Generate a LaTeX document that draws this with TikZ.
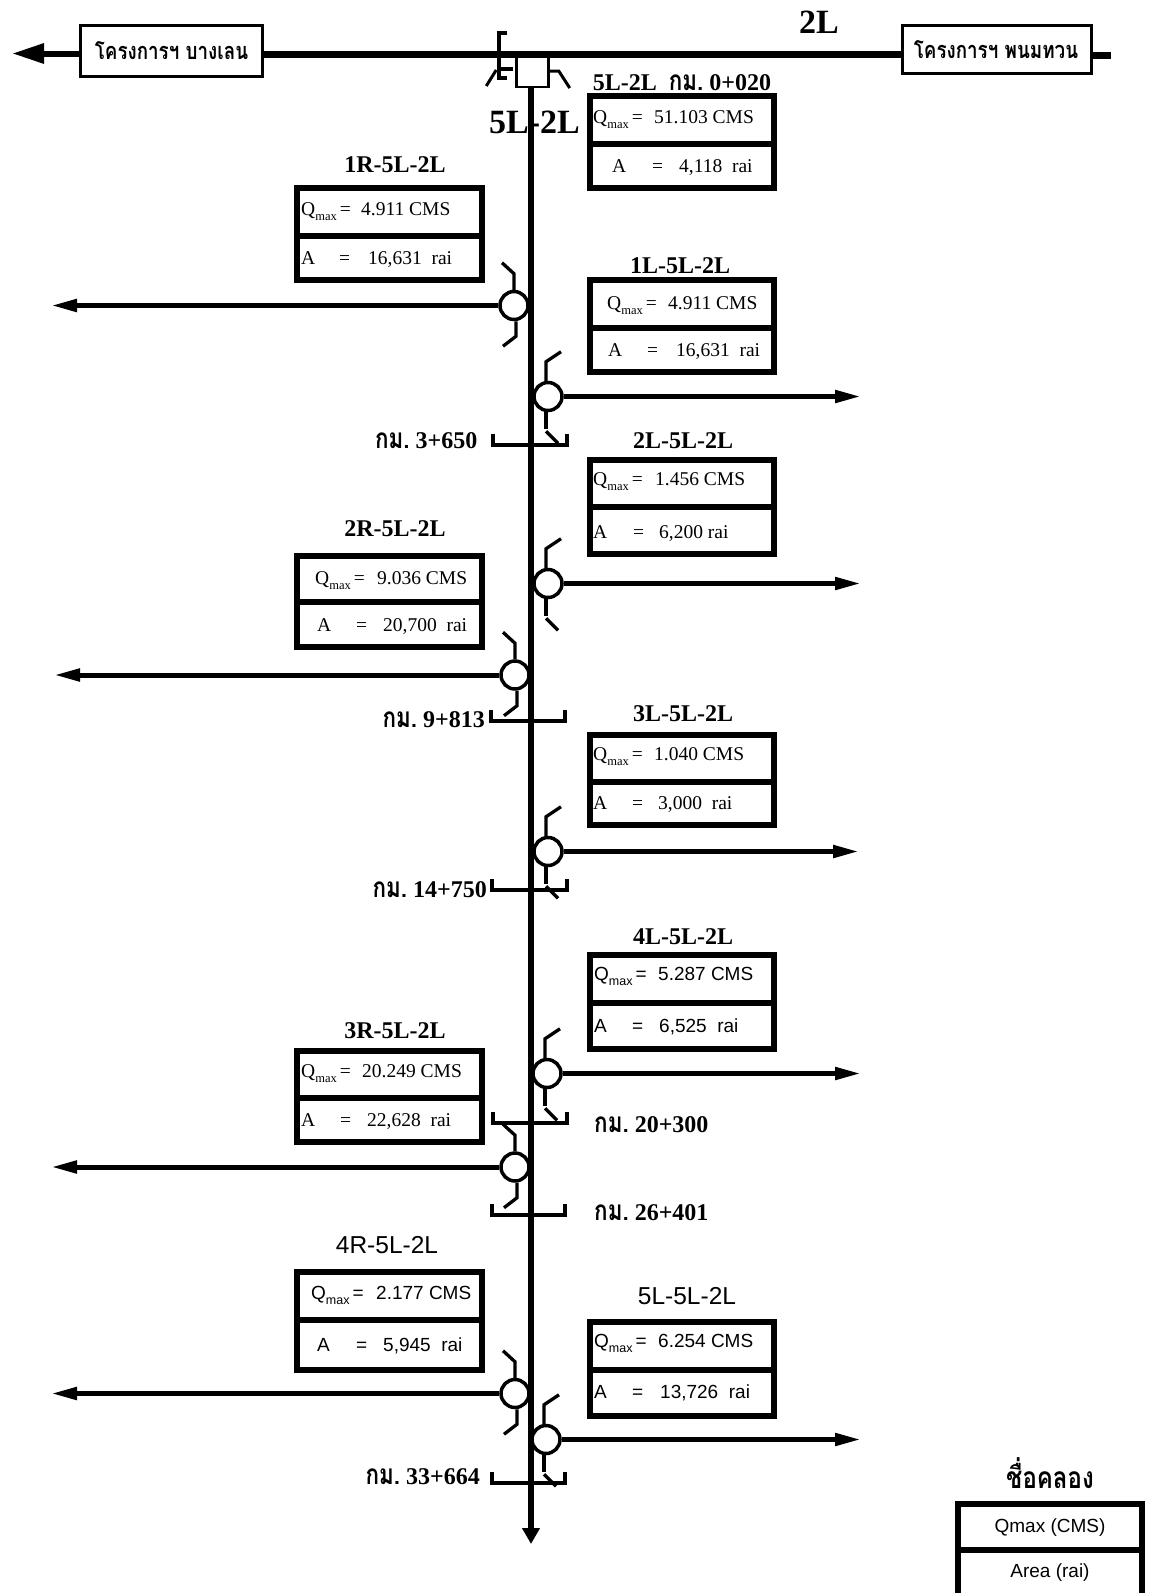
\documentclass[tikz,border=0pt]{standalone}
\usepackage{fontspec}
\usetikzlibrary{arrows.meta}
\setmainfont{Liberation Serif}
\newfontfamily\sansf{Liberation Sans}
\newfontfamily\thaib[Script=Thai,FakeStretch=0.8]{Loma}
\newcommand\fs[1]{\fontsize{#1}{#1}\selectfont}
\newcommand\kmw{{\thaib\bfseries\fs{28}กม.}}
\newcommand\Qm{Q\raisebox{-.3em}{\fs{12.5}max}\hspace{3pt}=}
\tikzset{
  x=1pt,y=-1pt,
  boxline/.style={draw=black,line width=6pt},
  databox/.style={boxline,fill=white,inner sep=0pt,rectangle},
  topbox/.style={draw=black,line width=3pt,fill=white,inner sep=0pt,rectangle},
  gatec/.style={circle,draw=black,fill=white,line width=3.5pt,minimum size=28pt,inner sep=0pt},
  branch/.style={draw=black,line width=5pt,-{Triangle[length=26pt,width=12pt]}},
  stem/.style={draw=black,line width=3.3pt},
  kmline/.style={draw=black,line width=4pt},
  rowserif/.style={anchor=base west,inner sep=0pt,font=\fs{19.5}},
  rowsans/.style={anchor=base west,inner sep=0pt,font=\sansf\fs{19}},
  titleserif/.style={anchor=base,inner sep=0pt,font=\bfseries\fs{24}},
  titlesans/.style={anchor=base,inner sep=0pt,font=\sansf\fs{24.5}},
  kmtext/.style={inner sep=0pt,font=\bfseries\fs{24}},
}
% name, x1, x2, y1, y2 (outer edges), divider y
\newcommand\dbox[6]{%
  \pgfmathsetmacro\bw{#3-#2-6}\pgfmathsetmacro\bh{#5-#4-6}%
  \pgfmathsetmacro\bx{(#2+#3)/2}\pgfmathsetmacro\by{(#4+#5)/2}%
  \node[databox,minimum width=\bw pt,minimum height=\bh pt] (#1) at (\bx,\by) {};
  \coordinate (#1d) at (0,#6);
  \draw[boxline] (#1.west |- #1d) -- (#1.east |- #1d);
}
% style, name, x, baseline, gap to value, value
\newcommand\qrow[6]{\node[#1] (#2) at (#3,#4) {\makebox[#5pt][l]{\Qm}#6};}
% style, name, x, baseline, gap to =, gap = to value, value
\newcommand\arow[7]{\node[#1] (#2) at (#3,#4) {\makebox[#5pt][l]{A}\makebox[#6pt][l]{=}#7};}
% left gate: name, cx, cy, tip x
\newcommand\lgate[4]{%
  \node[gatec] (#1) at (#2,#3) {};
  \coordinate (#1t) at (#4,#3);
  \draw[branch] (#1.west) -- (#1t);
  \draw[stem] (#1.north) -- ++(0,-16) -- ++(-12,-11);
  \draw[stem] ([xshift=2pt]#1.south) -- ++(0,15) -- ++(-13,10);
}
% right gate: name, cx, cy, tip x
\newcommand\rgate[4]{%
  \node[gatec] (#1) at (#2,#3) {};
  \coordinate (#1t) at (#4,#3);
  \draw[branch] (#1.east) -- (#1t);
  \draw[stem] ([xshift=-2pt]#1.north) -- ++(0,-19) -- ++(15,-10);
  \draw[stem] ([xshift=-2pt]#1.south) -- ++(0,17);
  \draw[stem] ([xshift=-2pt,yshift=-19pt]#1.south) -- ++(12,12);
}
% km bracket: x1, x2, y
\newcommand\kmb[3]{\draw[kmline] (#1,#3-11) -- (#1,#3) -- (#2,#3) -- (#2,#3-11);}
\begin{document}
\begin{tikzpicture}
\useasboundingbox (0,0) rectangle (1151,1593);
% main vertical canal head
\node[topbox,line width=2.5pt,minimum width=32pt,minimum height=30pt] (hd) at (532.5,72) {};
% main horizontal canal and project boxes
\node[topbox,minimum width=182pt,minimum height=51pt] (bl) at (171.5,51) {};
\node[inner sep=0pt,anchor=base,font=\thaib\bfseries\fs{23.5}] (bltext) at (171.5,59) {โครงการฯ บางเลน};
\node[topbox,minimum width=189pt,minimum height=48pt] (pt) at (996.5,49.5) {};
\node[inner sep=0pt,anchor=base,font=\thaib\bfseries\fs{23.5}] (pttext) at (996,58) {โครงการฯ พนมทวน};
\coordinate (mainy) at (0,54);
\coordinate (blarrow) at (0,53.5);
\coordinate (stuby) at (0,55.5);
\coordinate (ltip) at (12,53.5);
\coordinate (stubend) at (1111,55.5);
\draw[line width=6pt,-{Triangle[length=32pt,width=19pt]}] (bl.west |- blarrow) -- (ltip);
\draw[line width=7pt] (bl.east |- mainy) -- (pt.west |- mainy);
\draw[line width=7pt] (pt.east |- stuby) -- (stubend);
\node[inner sep=0pt,anchor=base,font=\bfseries\fs{34}] (l2) at (819,33) {2L};
\coordinate (vend) at (531,1544);
\draw[line width=5.5pt,-{Triangle[length=16pt,width=17pt]}] (hd.south -| vend) -- (vend);
% head gate
\draw[kmline] (hd.west) ++(-8,-39) -- ++(-8,0) -- ++(0,45) -- ++(8,0);
\draw[kmline] (hd.west) ++(-2,-3.5) -- ++(-14,0);
\draw[stem,line width=3pt] (hd.west) ++(-19,-2) -- ++(-10,16);
\draw[stem,line width=3pt] (hd.east) ++(0,-1) -- ++(9,0) -- ++(11,17);
\node[inner sep=0pt,anchor=base,font=\bfseries\fs{34}] (l5) at (534.5,133) {5L-2L};
% km brackets
\kmb{493}{567}{445}
\kmb{491}{565}{721}
\kmb{492}{567}{890}
\kmb{493}{567}{1123}
\kmb{492}{565}{1215}
\kmb{492}{565}{1483}
% gates
\lgate{g1r}{514}{305.5}{51}
\rgate{g1l}{548}{396.5}{861}
\rgate{g2l}{548}{583.5}{861}
\lgate{g2r}{515}{675}{54}
\rgate{g3l}{548}{851.5}{859}
\rgate{g4l}{547}{1073.5}{861}
\lgate{g3r}{515}{1167}{51}
\lgate{g4r}{515}{1393.5}{51}
\rgate{g5l}{546}{1439.5}{861}
% 5L-2L
\node[titleserif] (t0) at (682,90) {5L-2L\ \ \kmw\ 0+020};
\dbox{b0}{587}{777}{93}{191}{144}
\qrow{rowserif}{b0q}{593}{123}{61}{51.103 CMS}
\arow{rowserif}{b0a}{612}{172}{40}{27}{4,118\ \ rai}
% 1R
\node[titleserif] (t1r) at (395,172) {1R-5L-2L};
\dbox{b1r}{294}{485}{185}{283}{236}
\qrow{rowserif}{b1rq}{301}{215}{60}{4.911 CMS}
\arow{rowserif}{b1ra}{301}{264}{38}{29}{16,631\ \ rai}
% 1L
\node[titleserif] (t1l) at (680,273) {1L-5L-2L};
\dbox{b1l}{587}{777}{277}{375}{328}
\qrow{rowserif}{b1lq}{607}{309}{61}{4.911 CMS}
\arow{rowserif}{b1la}{608}{356}{39}{29}{16,631\ \ rai}
% 2L
\node[titleserif] (t2l) at (683,448) {2L-5L-2L};
\dbox{b2l}{587}{777}{457}{557}{507}
\qrow{rowserif}{b2lq}{593}{485}{62}{1.456 CMS}
\arow{rowserif}{b2la}{593}{538}{40}{26}{6,200 rai}
% 2R
\node[titleserif] (t2r) at (395,536) {2R-5L-2L};
\dbox{b2r}{294}{485}{553}{650}{601.5}
\qrow{rowserif}{b2rq}{315}{584}{62}{9.036 CMS}
\arow{rowserif}{b2ra}{317}{631}{39}{27}{20,700\ \ rai}
% 3L
\node[titleserif] (t3l) at (683,721) {3L-5L-2L};
\dbox{b3l}{587}{777}{731.5}{828}{782}
\qrow{rowserif}{b3lq}{593}{760}{61}{1.040 CMS}
\arow{rowserif}{b3la}{593}{809}{39}{26}{3,000\ \ rai}
% 4L
\node[titleserif] (t4l) at (683,944) {4L-5L-2L};
\dbox{b4l}{587}{777}{952}{1052}{1003}
\qrow{rowsans}{b4lq}{594}{980}{64}{5.287 CMS}
\arow{rowsans}{b4la}{594}{1032}{38}{27}{6,525\ \ rai}
% 3R
\node[titleserif] (t3r) at (395,1038) {3R-5L-2L};
\dbox{b3r}{294}{485}{1047.5}{1145}{1098}
\qrow{rowserif}{b3rq}{301}{1077}{61}{20.249 CMS}
\arow{rowserif}{b3ra}{301}{1126}{39}{27}{22,628\ \ rai}
% 4R
\node[titlesans] (t4r) at (387,1253) {4R-5L-2L};
\dbox{b4r}{294}{485}{1269}{1373}{1320}
\qrow{rowsans}{b4rq}{311}{1299}{65}{2.177 CMS}
\arow{rowsans}{b4ra}{317}{1351}{39}{27}{5,945\ \ rai}
% 5L
\node[titlesans] (t5l) at (687,1304) {5L-5L-2L};
\dbox{b5l}{587}{777}{1319}{1419}{1370}
\qrow{rowsans}{b5lq}{594}{1347}{64}{6.254 CMS}
\arow{rowsans}{b5la}{594}{1398}{38}{28}{13,726\ \ rai}
% km labels
\node[kmtext,anchor=base east] (k1) at (477.5,448) {\kmw\ 3+650};
\node[kmtext,anchor=base east] (k2) at (485,727.5) {\kmw\ 9+813};
\node[kmtext,anchor=base east] (k3) at (487,897) {\kmw\ 14+750};
\node[kmtext,anchor=base west] (k4) at (594,1132) {\kmw\ 20+300};
\node[kmtext,anchor=base west] (k5) at (594,1220) {\kmw\ 26+401};
\node[kmtext,anchor=base east] (k6) at (480,1484) {\kmw\ 33+664};
% legend
\node[inner sep=0pt,anchor=base,font=\thaib\bfseries\fs{30}] (lt) at (1050,1488) {ชื่อคลอง};
\draw[boxline] (958,1593) -- (958,1504) -- (1142,1504) -- (1142,1593);
\draw[boxline] (958,1550) -- (1142,1550);
\node[inner sep=0pt,anchor=base,font=\sansf\fs{19}] (lq) at (1050,1532) {Qmax (CMS)};
\node[inner sep=0pt,anchor=base,font=\sansf\fs{19}] (la) at (1050,1577) {Area (rai)};
\end{tikzpicture}
\end{document}
